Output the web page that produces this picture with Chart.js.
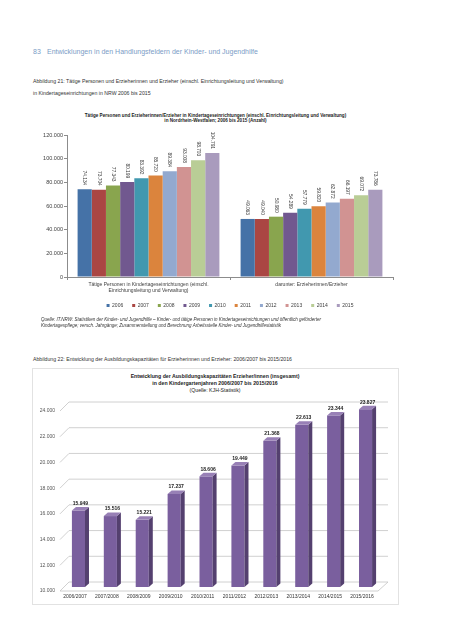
<!DOCTYPE html>
<html>
<head>
<meta charset="utf-8">
<script src="https://cdn.jsdelivr.net/npm/chart.js@4.4.1/dist/chart.umd.min.js"></script>
<style>
  body { margin: 0; width: 453px; height: 640px; background: #fff; position: relative; overflow: hidden;
         font-family: "Liberation Sans", Arial, sans-serif; }
  .t { position: absolute; white-space: nowrap; color: #333; }
  canvas { position: absolute; }
  .box { position: absolute; left: 32px; top: 368px; width: 367px; height: 237px; box-sizing: border-box;
         border: 1px solid #e2e2e2; }
</style>
</head>
<body>
<div class="t" style="left:33px;top:47.5px;font-size:7px;line-height:8px;color:#7b9cc6">83</div>
<div class="t" style="left:47px;top:47.5px;font-size:7px;line-height:8px;color:#7b9cc6">Entwicklungen in den Handlungsfeldern der Kinder- und Jugendhilfe</div>

<div class="t" style="left:33px;top:78px;font-size:5.2px;line-height:6px">Abbildung 21: Tätige Personen und Erzieherinnen und Erzieher (einschl. Einrichtungsleitung und Verwaltung)</div>
<div class="t" style="left:33px;top:89.7px;font-size:5.2px;line-height:6px">in Kindertageseinrichtungen in NRW 2006 bis 2015</div>

<div class="t" style="left:0;width:431px;text-align:center;top:112.5px;font-size:4.6px;line-height:5.6px;font-weight:bold;color:#222">Tätige Personen und Erzieherinnen/Erzieher in Kindertageseinrichtungen (einschl. Einrichtungsleitung und Verwaltung)<br>in Nordrhein-Westfalen; 2006 bis 2015 (Anzahl)</div>

<canvas id="c1" width="453" height="190" style="left:0;top:128px"></canvas>

<div class="t" style="left:41px;top:317.2px;font-size:4.5px;line-height:6px;font-style:italic">Quelle: IT.NRW: Statistiken der Kinder- und Jugendhilfe – Kinder- und tätige Personen in Kindertageseinrichtungen und öffentlich geförderter<br>Kindertagespflege; versch. Jahrgänge; Zusammenstellung und Berechnung Arbeitsstelle Kinder- und Jugendhilfestatistik</div>

<div class="t" style="left:33px;top:356px;font-size:5.2px;line-height:6px">Abbildung 22: Entwicklung der Ausbildungskapazitäten für Erzieherinnen und Erzieher: 2006/2007 bis 2015/2016</div>

<div class="box"></div>
<div class="t" style="left:0;width:430px;text-align:center;top:373px;font-size:5.2px;line-height:6.8px;color:#222"><b>Entwicklung der Ausbildungskapazitäten Erzieher/innen (insgesamt)</b><br><b>in den Kindergartenjahren 2006/2007 bis 2015/2016</b><br>(Quelle: KJH-Statistik)</div>

<canvas id="c2" width="453" height="206" style="left:0;top:400px"></canvas>

<script>
// Abbildung 21
const years = ['2006', '2007', '2008', '2009', '2010', '2011', '2012', '2013', '2014', '2015'];
const groups = [['Tätige Personen in Kindertageseinrichtungen (einschl.', 'Einrichtungsleitung und Verwaltung)'],
                'darunter: Erzieherinnen/Erzieher'];
const staffTotal = [74134, 73704, 77343, 80199, 83392, 85720, 89384, 93008, 98703, 104791];
const staffEducators = [49063, 49040, 50980, 54289, 57779, 59820, 62872, 66197, 69072, 73786];

// Abbildung 22
const schoolYears = ['2006/2007', '2007/2008', '2008/2009', '2009/2010', '2010/2011',
                     '2011/2012', '2012/2013', '2013/2014', '2014/2015', '2015/2016'];
const trainingPlaces = [15949, 15516, 15221, 17237, 18606, 19449, 21368, 22613, 23344, 23827];

const yearColors = ['#4572A7', '#AA4643', '#89A54E', '#71588F', '#4198AF',
                    '#DB843D', '#93A9CF', '#D19392', '#B9CD96', '#A99BBD'];
const FONT = '"Liberation Sans", Arial, sans-serif';

const fmt = v => String(v).replace(/\B(?=(\d{3})+(?!\d))/g, '.');

// vertical value labels over the bars
const rotLabels = {
  id: 'rotLabels',
  afterDatasetsDraw(chart) {
    const ctx = chart.ctx;
    ctx.save();
    ctx.font = '4.8px ' + FONT;
    ctx.fillStyle = '#404040';
    ctx.textAlign = 'right';
    ctx.textBaseline = 'middle';
    chart.data.datasets.forEach((ds, i) => {
      chart.getDatasetMeta(i).data.forEach((bar, j) => {
        ctx.save();
        ctx.translate(bar.x, bar.y - 4);
        ctx.rotate(Math.PI / 2);
        ctx.fillText(fmt(ds.data[j]), 0, 0);
        ctx.restore();
      });
    });
    ctx.restore();
  }
};

new Chart(document.getElementById('c1'), {
  type: 'bar',
  data: {
    labels: groups,
    datasets: years.map((y, i) => ({
      label: y,
      data: [staffTotal[i], staffEducators[i]],
      backgroundColor: yearColors[i],
      borderWidth: 0
    }))
  },
  options: {
    responsive: false,
    animation: false,
    layout: { padding: { top: 7, right: 60, left: 0, bottom: 0 } },
    datasets: { bar: { categoryPercentage: 0.87, barPercentage: 1 } },
    plugins: {
      legend: {
        position: 'bottom',
        fullSize: false,
        labels: { boxWidth: 3, boxHeight: 3, padding: 9, color: '#404040', font: { size: 5, family: FONT } }
      },
      tooltip: { enabled: false }
    },
    scales: {
      x: {
        grid: { drawOnChartArea: false, tickLength: 3, color: '#8c8c8c' },
        border: { color: '#8c8c8c' },
        ticks: { color: '#404040', padding: 2, maxRotation: 0, font: { size: 5, family: FONT } },
        afterFit: s => { s.height = 17; }
      },
      y: {
        min: 0, max: 120000,
        grid: { drawOnChartArea: false, tickLength: 3, color: '#8c8c8c' },
        border: { color: '#8c8c8c' },
        ticks: { stepSize: 20000, padding: 1, color: '#404040', callback: v => fmt(v), font: { size: 5.5, family: FONT } },
        afterFit: s => { s.width = 67; }
      }
    }
  },
  plugins: [rotLabels]
});

// fake 3d look: back wall lines + extruded bars
const DX = 10, DY = 9;
const bars3d = {
  id: 'bars3d',
  beforeDatasetsDraw(chart) {
    const { ctx, chartArea: a, scales: { y } } = chart;
    ctx.save();
    ctx.strokeStyle = '#c4c4c4';
    ctx.lineWidth = 0.8;
    y.ticks.forEach(t => {
      const py = y.getPixelForValue(t.value);
      ctx.beginPath();
      ctx.moveTo(a.left + 1, py);
      ctx.lineTo(a.left + DX, py - DY);
      ctx.lineTo(a.right + DX, py - DY);
      ctx.stroke();
    });
    const pb = y.getPixelForValue(y.min);
    ctx.beginPath();
    ctx.moveTo(a.left + 1, pb);
    ctx.lineTo(a.right, pb);
    ctx.lineTo(a.right + DX, pb - DY);
    ctx.stroke();
    ctx.restore();
  },
  afterDatasetsDraw(chart) {
    const ctx = chart.ctx;
    const y = chart.scales.y;
    const poly = pts => {
      ctx.beginPath();
      pts.forEach((p, k) => k ? ctx.lineTo(p[0], p[1]) : ctx.moveTo(p[0], p[1]));
      ctx.closePath();
      ctx.fill();
    };
    const ds = chart.data.datasets[0];
    const floor = y.getPixelForValue(y.min);
    ctx.save();
    chart.getDatasetMeta(0).data.forEach((bar, i) => {
      const w = bar.width;
      const l = bar.x - w / 2 + 3.5, r = l + w, t = bar.y - 4, b = Math.min(bar.base, floor) - 4;
      ctx.fillStyle = '#7a5f9e';
      ctx.fillRect(l, t, w, b - t);
      ctx.fillStyle = '#54406f';
      poly([[r, t], [r + 4, t - 3.5], [r + 4, b - 3.5], [r, b]]);
      ctx.fillStyle = '#9880b6';
      poly([[l, t], [r, t], [r + 4, t - 3.5], [l + 4, t - 3.5]]);
      ctx.font = 'bold 5px ' + FONT;
      ctx.fillStyle = '#222';
      ctx.textAlign = 'center';
      ctx.textBaseline = 'middle';
      ctx.fillText(fmt(ds.data[i]), l + w / 2 + 2, t - 7);
    });
    ctx.restore();
  }
};

new Chart(document.getElementById('c2'), {
  type: 'bar',
  data: {
    labels: schoolYears,
    datasets: [{ data: trainingPlaces, backgroundColor: 'rgba(0,0,0,0)', borderWidth: 0,
                 categoryPercentage: 1, barPercentage: 0.41 }]
  },
  options: {
    responsive: false,
    animation: false,
    layout: { padding: { top: 11, right: 75, left: 0, bottom: 0 } },
    plugins: { legend: { display: false }, tooltip: { enabled: false } },
    scales: {
      x: {
        grid: { display: false, drawTicks: false },
        border: { display: false },
        ticks: { color: '#333', padding: 3, maxRotation: 0, autoSkip: false, font: { size: 5, family: FONT } },
        afterFit: s => { s.height = 15; }
      },
      y: {
        min: 10000, max: 24000,
        grid: { display: false, drawTicks: false },
        border: { display: false },
        ticks: { stepSize: 2000, padding: 4, color: '#555', callback: v => fmt(v), font: { size: 5, family: FONT } },
        afterFit: s => { s.width = 59; }
      }
    }
  },
  plugins: [bars3d]
});
</script>
</body>
</html>
